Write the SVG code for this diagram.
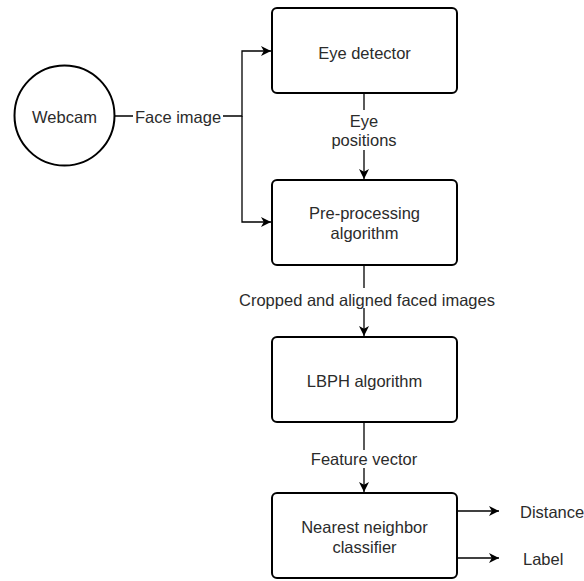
<svg xmlns="http://www.w3.org/2000/svg" width="584" height="581" viewBox="0 0 584 581">
  <defs>
    <marker id="arrow" viewBox="0 0 10 10" refX="10" refY="5" markerWidth="10" markerHeight="10" markerUnits="userSpaceOnUse" orient="auto">
      <path d="M0,0 L10,5 L0,10 L2.8,5 Z" fill="#000"/>
    </marker>
  </defs>
  <style>
    .box { fill: #fff; stroke: #000; stroke-width: 2; }
    .edge { fill: none; stroke: #000; stroke-width: 1.3; }
    .arr { marker-end: url(#arrow); }
    text { font-family: "Liberation Sans", Arial, Helvetica, sans-serif; font-size: 16.5px; fill: #2b2b2b; text-anchor: middle; }
    .lbl { fill: #fff; stroke: none; }
    .start { text-anchor: start; }
  </style>
  <rect width="584" height="581" fill="#fff"/>

  <!-- connectors -->
  <g id="connectors">
    <path class="edge arr" d="M115,116 H242 V51 H271"/>
    <path class="edge arr" d="M242,116 V222 H271"/>
    <path class="edge arr" d="M364,93 V179"/>
    <path class="edge arr" d="M364,265 V336"/>
    <path class="edge arr" d="M364,422 V492"/>
    <path class="edge arr" d="M458,511 H499"/>
    <path class="edge arr" d="M458,558 H499"/>

    <!-- edge labels with background -->
    <rect class="lbl" x="133" y="106" width="90" height="22"/>
    <text x="178" y="123">Face image</text>
    <rect class="lbl" x="320" y="110" width="88" height="40"/>
    <text x="364" y="126.5">Eye</text>
    <text x="364" y="146">positions</text>
    <rect class="lbl" x="234" y="288" width="266" height="20"/>
    <text x="367" y="305.5">Cropped and aligned faced images</text>
    <rect class="lbl" x="305" y="450" width="118" height="18"/>
    <text x="364" y="464.5">Feature vector</text>
    <text class="start" x="520" y="517.5">Distance</text>
    <text class="start" x="523" y="564.5">Label</text>
  </g>

  <g id="webcam">
    <circle class="box" cx="64.5" cy="115.5" r="50"/>
    <text x="64.5" y="123">Webcam</text>
  </g>

  <g id="eye-detector">
    <rect class="box" x="272" y="8" width="185" height="85" rx="5"/>
    <text x="364.5" y="58.5">Eye detector</text>
  </g>

  <g id="pre-processing">
    <rect class="box" x="272" y="180" width="185" height="85" rx="5"/>
    <text x="364.5" y="218.5">Pre-processing</text>
    <text x="364.5" y="238.5">algorithm</text>
  </g>

  <g id="lbph">
    <rect class="box" x="272" y="337" width="185" height="85" rx="5"/>
    <text x="364.5" y="386.5">LBPH algorithm</text>
  </g>

  <g id="classifier">
    <rect class="box" x="272" y="493" width="185" height="85" rx="5"/>
    <text x="364.5" y="533">Nearest neighbor</text>
    <text x="364.5" y="552.5">classifier</text>
  </g>
</svg>
